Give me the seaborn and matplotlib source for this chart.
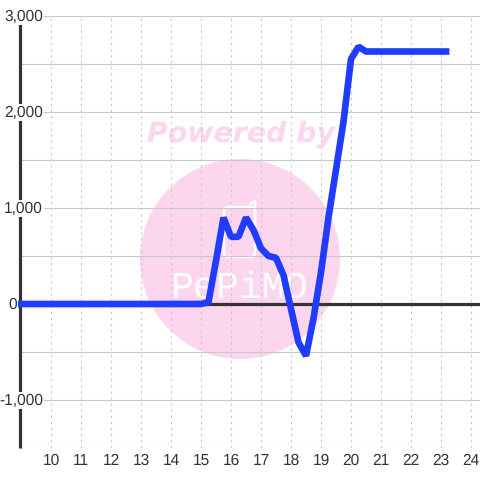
import matplotlib
matplotlib.use("Agg")
import matplotlib.pyplot as plt
from matplotlib.patches import Circle, FancyBboxPatch
import seaborn as sns
import pandas as pd

hours = [8.9, 9.25, 9.5, 9.75, 10.0, 10.25, 10.5, 10.75, 11.0, 11.25, 11.5, 11.75,
         12.0, 12.25, 12.5, 12.75, 13.0, 13.25, 13.5, 13.75, 14.0, 14.25, 14.5, 14.75,
         15.0, 15.25, 15.5, 15.75, 16.0, 16.25, 16.5, 16.75, 17.0, 17.25, 17.5, 17.75,
         18.0, 18.25, 18.5, 18.75, 19.0, 19.25, 19.5, 19.75, 20.0, 20.25, 20.5, 20.75,
         21.0, 21.25, 21.5, 21.75, 22.0, 22.25, 22.5, 22.75, 23.0, 23.28]
values = [0, 0, 0, 0, 0, 0, 0, 0, 0, 0, 0, 0,
          0, 0, 0, 0, 0, 0, 0, 0, 0, 0, 0, 0,
          0, 20, 450, 900, 700, 700, 900, 770, 580, 500, 480, 300,
          -50, -400, -540, -150, 330, 900, 1400, 1900, 2550, 2680, 2630, 2630,
          2630, 2630, 2630, 2630, 2630, 2630, 2630, 2630, 2630, 2630]
x_ticks = [10, 11, 12, 13, 14, 15, 16, 17, 18, 19, 20, 21, 22, 23, 24]
y_ticks = [-1000, 1000, 2000, 3000]
y_minor = [-1500, -500, 500, 1500, 2500]
y_labels = ["-1,000", "1,000", "2,000", "3,000"]

sns.set_style("white")
plt.rcParams["font.family"] = ["Liberation Sans", "DejaVu Sans"]
plt.rcParams["text.hinting"] = "none"

W = 480.0
fig = plt.figure(figsize=(4.8, 4.8), dpi=100)
# axes box in pixels: x 20..480, y 16..448
ax = fig.add_axes([20 / W, 1 - 448 / W, 460 / W, 432 / W])
ax.set_xlim(8.967, 24.3)
ax.set_ylim(-1500, 3000)
ax.patch.set_alpha(0)

# watermark behind the chart, in figure pixels
bg = fig.add_axes([0, 0, 1, 1], zorder=-1)
bg.set_xlim(0, W)
bg.set_ylim(W, 0)
bg.axis("off")
bg.add_patch(Circle((240, 259), 100, color="#fcd5ee", lw=0))
bg.text(241.5, 134, "Powered by", color="#fcd5ee", fontsize=20.4, fontweight="bold",
        fontstyle="italic", family="DejaVu Sans", ha="center", va="center")
bg.add_patch(FancyBboxPatch((224, 207), 31, 50, boxstyle="round,pad=0,rounding_size=4",
                            fc="none", ec="#ffffff", lw=1.8))
bg.plot([255, 255, 250], [230, 201, 204], color="#ffffff", lw=1.8)
bg.text(240, 288, "PePiMO", color="#ffffff", fontsize=27.5, family="Liberation Mono",
        ha="center", va="center")

for s in ["top", "right", "bottom"]:
    ax.spines[s].set_visible(False)

for y in y_ticks + y_minor:
    ax.axhline(y, color="#c8c8c8", lw=0.8, zorder=1)
for x in x_ticks:
    ax.axvline(x, color="#c8c8c8", lw=0.8, ls=(0, (2, 3.5)), zorder=1)
ax.axhline(0, color="#333333", lw=2.3, zorder=2)

ax.spines["left"].set_color("#333333")
ax.spines["left"].set_linewidth(2.3)
ax.spines["left"].set_bounds(-1500, 2917)
ax.spines["left"].set_capstyle("butt")
ax.spines["left"].set_zorder(2)

df = pd.DataFrame({"hour": hours, "value": values})
sns.lineplot(data=df, x="hour", y="value", ax=ax, color="#1f3cff", lw=4.8, zorder=3,
             solid_joinstyle="bevel", solid_capstyle="butt", clip_on=False)
ax.set_xlabel("")
ax.set_ylabel("")

ax.set_xticks(x_ticks)
ax.set_xticklabels([str(v) for v in x_ticks])
ax.set_yticks([])
ax.tick_params(axis="x", length=0, pad=4, labelsize=11.2, labelcolor="#333333")

# y labels sit across the axis line with a white background
for y, lab in zip(y_ticks, y_labels):
    ax.annotate(lab, (0, y), xycoords=("axes fraction", "data"), xytext=(23, -0.5),
                textcoords="offset pixels", ha="right", va="center", fontsize=11.2,
                color="#333333", zorder=4, annotation_clip=False,
                bbox=dict(fc="white", ec="none", pad=1))
# the zero label is off to the left of the axis, with no background
ax.annotate("0", (0, 0), xycoords=("axes fraction", "data"), xytext=(-3, -0.5),
            textcoords="offset pixels", ha="right", va="center", fontsize=11.2,
            color="#333333", annotation_clip=False)

fig.savefig("out.png", dpi=100)
